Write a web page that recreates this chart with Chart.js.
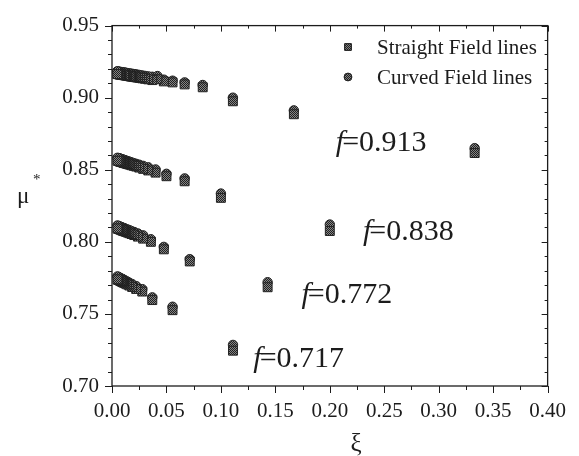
<!DOCTYPE html>
<html>
<head>
<meta charset="utf-8">
<script src="https://cdn.jsdelivr.net/npm/chart.js@4/dist/chart.umd.min.js"></script>
<style>
  html, body { margin: 0; padding: 0; background: #fff; }
  canvas { display: block; }
</style>
</head>
<body>
<canvas id="chart" width="579" height="456"></canvas>
<script>
// xi values and mu* for each filling fraction f
const xi913 = [0.333, 0.167, 0.111, 0.0833, 0.0667, 0.0556, 0.0476, 0.0417, 0.0370, 0.0333, 0.0303, 0.0278, 0.0256, 0.0238, 0.0222, 0.0208, 0.0196, 0.0185, 0.0175, 0.0167, 0.0152, 0.0139, 0.0128, 0.0119, 0.0111, 0.0095, 0.0083, 0.0074, 0.0067, 0.0056, 0.0048]
const straight913 = [0.8616, 0.8885, 0.8975, 0.9072, 0.9092, 0.9106, 0.9113, 0.9128, 0.9122, 0.9127, 0.9131, 0.9134, 0.9137, 0.9139, 0.9141, 0.9143, 0.9145, 0.9146, 0.9147, 0.9148, 0.9150, 0.9152, 0.9153, 0.9155, 0.9156, 0.9158, 0.9159, 0.9160, 0.9161, 0.9163, 0.9164]
const curved913 = [0.8650, 0.8912, 0.9000, 0.9088, 0.9106, 0.9118, 0.9125, 0.9150, 0.9145, 0.9148, 0.9151, 0.9154, 0.9157, 0.9159, 0.9161, 0.9163, 0.9164, 0.9165, 0.9166, 0.9167, 0.9169, 0.9171, 0.9172, 0.9174, 0.9175, 0.9177, 0.9178, 0.9179, 0.9180, 0.9182, 0.9183]

const xi838 = [0.200, 0.100, 0.0667, 0.0500, 0.0400, 0.0333, 0.0286, 0.0250, 0.0222, 0.0200, 0.0182, 0.0167, 0.0154, 0.0143, 0.0133, 0.0125, 0.0118, 0.0111, 0.0105, 0.0100, 0.0091, 0.0083, 0.0077, 0.0071, 0.0067, 0.0059, 0.0050]
const straight838 = [0.8075, 0.8305, 0.8420, 0.8455, 0.8480, 0.8495, 0.8506, 0.8515, 0.8522, 0.8527, 0.8531, 0.8535, 0.8538, 0.8540, 0.8543, 0.8545, 0.8546, 0.8548, 0.8549, 0.8551, 0.8553, 0.8555, 0.8556, 0.8558, 0.8559, 0.8561, 0.8563]
const curved838 = [0.8120, 0.8335, 0.8440, 0.8472, 0.8502, 0.8517, 0.8527, 0.8535, 0.8541, 0.8546, 0.8550, 0.8554, 0.8557, 0.8559, 0.8562, 0.8564, 0.8566, 0.8568, 0.8569, 0.8571, 0.8573, 0.8575, 0.8576, 0.8578, 0.8579, 0.8581, 0.8583]

const xi772 = [0.1429, 0.0714, 0.0476, 0.0357, 0.0286, 0.0238, 0.0204, 0.0179, 0.0159, 0.0143, 0.0130, 0.0119, 0.0110, 0.0102, 0.0095, 0.0089, 0.0079, 0.0071, 0.0063, 0.0056, 0.0050]
const straight772 = [0.7685, 0.7864, 0.7948, 0.8000, 0.8022, 0.8036, 0.8047, 0.8054, 0.8060, 0.8065, 0.8069, 0.8072, 0.8075, 0.8077, 0.8079, 0.8081, 0.8084, 0.8087, 0.8089, 0.8091, 0.8093]
const curved772 = [0.7720, 0.7880, 0.7965, 0.8018, 0.8045, 0.8058, 0.8068, 0.8075, 0.8081, 0.8085, 0.8089, 0.8092, 0.8095, 0.8097, 0.8099, 0.8101, 0.8104, 0.8107, 0.8109, 0.8111, 0.8113]

const xi717 = [0.1111, 0.0556, 0.0370, 0.0278, 0.0222, 0.0185, 0.0159, 0.0139, 0.0123, 0.0111, 0.0101, 0.0093, 0.0085, 0.0079, 0.0069, 0.0062, 0.0056, 0.0050]
const straight717 = [0.7245, 0.7526, 0.7596, 0.7655, 0.7673, 0.7687, 0.7697, 0.7705, 0.7711, 0.7716, 0.7720, 0.7723, 0.7726, 0.7728, 0.7732, 0.7735, 0.7737, 0.7740]
const curved717 = [0.7285, 0.7550, 0.7615, 0.7672, 0.7693, 0.7707, 0.7717, 0.7725, 0.7731, 0.7736, 0.7740, 0.7743, 0.7746, 0.7748, 0.7752, 0.7755, 0.7757, 0.7760]

const seriesNames = ['Straight Field lines', 'Curved Field lines']
const fValues = ['0.913', '0.838', '0.772', '0.717']
const xTicks = [0.00, 0.05, 0.10, 0.15, 0.20, 0.25, 0.30, 0.35, 0.40]
const yTicks = [0.70, 0.75, 0.80, 0.85, 0.90, 0.95]

// where each f= label sits, in axis units (left edge, baseline)
const fLabelAt = [[0.2055, 0.8633], [0.2305, 0.8011], [0.174, 0.7574], [0.1298, 0.713]]

function points(groups) {
    let out = []
    groups.forEach(([xs, ys]) => {
        xs.forEach((x, i) => out.push({x, y: ys[i]}))
    })
    return out
}

// dithered grey fill like the printed markers
function makeDither() {
    const c = document.createElement('canvas')
    c.width = 2
    c.height = 2
    const g = c.getContext('2d')
    g.fillStyle = '#858585'
    g.fillRect(0, 0, 2, 2)
    g.fillStyle = '#202020'
    g.fillRect(0, 0, 1, 1)
    g.fillRect(1, 1, 1, 1)
    return g.createPattern(c, 'repeat')
}

const serif = '"Liberation Serif", "Times New Roman", serif'
const ink = '#1c1c1c'
const dither = makeDither()

const decorations = {
    id: 'decorations',
    afterDraw(chart) {
        const {ctx, chartArea: a, scales: {x, y}} = chart
        ctx.save()
        ctx.strokeStyle = ink
        ctx.lineWidth = 1.3
        ctx.strokeRect(a.left, a.top, a.right - a.left, a.bottom - a.top)

        // x ticks every 0.025, out on the bottom, in on the top
        ctx.lineWidth = 1
        for (let i = 0; i <= 16; i++) {
            const px = Math.round(x.getPixelForValue(i * 0.025)) + 0.5
            const major = i % 2 === 0
            ctx.beginPath()
            ctx.moveTo(px, a.bottom)
            ctx.lineTo(px, a.bottom + (major ? 7 : 4))
            ctx.moveTo(px, a.top)
            ctx.lineTo(px, a.top + (major ? 6 : 3))
            ctx.stroke()
        }
        // y ticks every 0.01, out on the left, in on the right
        for (let i = 0; i <= 25; i++) {
            const py = Math.round(y.getPixelForValue(0.70 + i * 0.01)) + 0.5
            const major = i % 5 === 0
            ctx.beginPath()
            ctx.moveTo(a.left, py)
            ctx.lineTo(a.left - (major ? 7 : 4), py)
            ctx.moveTo(a.right, py)
            ctx.lineTo(a.right - (major ? 6 : 3), py)
            ctx.stroke()
        }

        // axis titles
        ctx.fillStyle = ink
        ctx.textAlign = 'left'
        ctx.textBaseline = 'alphabetic'
        ctx.font = '23px ' + serif
        ctx.fillText('μ', 17, 203)
        ctx.font = '15px ' + serif
        ctx.fillText('*', 33, 184)
        ctx.font = '25px ' + serif
        ctx.textAlign = 'center'
        ctx.fillText('ξ', 356, 451)

        // legend
        const sets = chart.data.datasets
        ctx.textAlign = 'left'
        ctx.textBaseline = 'middle'
        ctx.font = '21px ' + serif
        sets.forEach((ds, i) => {
            const ly = 47 + i * 30
            ctx.fillStyle = dither
            ctx.strokeStyle = '#222'
            Chart.helpers.drawPoint(ctx, {
                pointStyle: ds.pointStyle,
                radius: ds.pointStyle === 'rect' ? 4.6 : 3.8,
                borderWidth: 1
            }, 348, ly)
            ctx.fill()
            ctx.stroke()
            ctx.fillStyle = ink
            ctx.fillText(ds.label, 377, ly + 1)
        })

        // f= labels
        ctx.textBaseline = 'alphabetic'
        fValues.forEach((f, i) => {
            const lx = x.getPixelForValue(fLabelAt[i][0])
            const ly = y.getPixelForValue(fLabelAt[i][1])
            ctx.font = 'italic 30px ' + serif
            ctx.fillText('f', lx, ly)
            const w = ctx.measureText('f').width
            ctx.font = '30px ' + serif
            ctx.fillText('=' + f, lx + w - 2, ly)
        })
        ctx.restore()
    }
}

new Chart(document.getElementById('chart'), {
    type: 'scatter',
    data: {
        datasets: [
            {
                label: seriesNames[0],
                data: points([[xi913, straight913], [xi838, straight838], [xi772, straight772], [xi717, straight717]]),
                pointStyle: 'rect',
                pointRadius: 6.3,
                backgroundColor: dither,
                borderColor: '#222',
                borderWidth: 1
            },
            {
                label: seriesNames[1],
                data: points([[xi913, curved913], [xi838, curved838], [xi772, curved772], [xi717, curved717]]),
                pointStyle: 'circle',
                pointRadius: 4.7,
                backgroundColor: dither,
                borderColor: '#222',
                borderWidth: 1
            }
        ]
    },
    options: {
        responsive: false,
        animation: false,
        devicePixelRatio: 1,
        layout: {padding: {top: 19, right: 22, left: 0, bottom: 0}},
        plugins: {
            legend: {display: false},
            tooltip: {enabled: false}
        },
        scales: {
            x: {
                type: 'linear',
                min: 0,
                max: 0.40,
                afterFit: s => { s.height = 70 },
                afterBuildTicks: s => { s.ticks = xTicks.map(value => ({value})) },
                grid: {display: false, drawTicks: false},
                border: {display: false},
                ticks: {
                    color: ink,
                    font: {family: serif, size: 21},
                    padding: 13,
                    maxRotation: 0,
                    callback: v => v.toFixed(2)
                }
            },
            y: {
                type: 'linear',
                min: 0.70,
                max: 0.95,
                afterFit: s => { s.width = 112 },
                afterBuildTicks: s => { s.ticks = yTicks.map(value => ({value})) },
                grid: {display: false, drawTicks: false},
                border: {display: false},
                ticks: {
                    color: ink,
                    font: {family: serif, size: 21},
                    padding: 13,
                    callback: v => v.toFixed(2)
                }
            }
        }
    },
    plugins: [decorations]
});
</script>
</body>
</html>
